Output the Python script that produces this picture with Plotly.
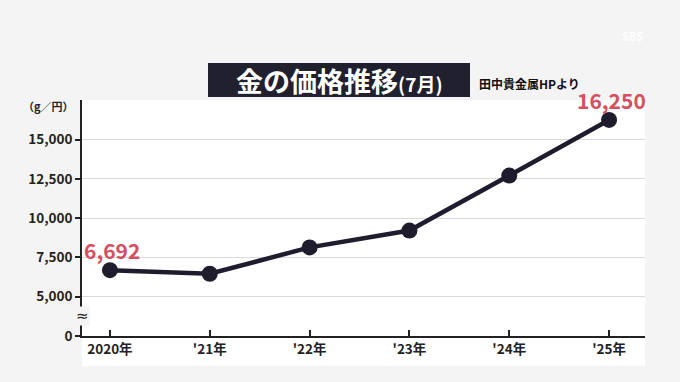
import plotly.graph_objects as go

years = ["2020年", "'21年", "'22年", "'23年", "'24年", "'25年"]
prices = [6692, 6460, 8140, 9210, 12710, 16250]
labeled = {0: "6,692", 5: "16,250"}
ytick_vals = [2500, 5000, 7500, 10000, 12500, 15000]
ytick_text = ["0", "5,000", "7,500", "10,000", "12,500", "15,000"]

W, H = 680, 382
L, R, T, B = 82, 35, 100, 46
PW, PH = W - L - R, H - T - B
FONT = "Noto Sans CJK JP"


def px(x):
    return (x - L) / PW


def py(y):
    return (H - B - y) / PH


xs = list(range(len(years)))

fig = go.Figure()
fig.add_trace(go.Scatter(
    x=xs, y=prices, mode="lines+markers",
    line=dict(color="#1f1d2d", width=4.5),
    marker=dict(color="#1f1d2d", size=16),
    cliponaxis=False, hoverinfo="skip", showlegend=False,
))

annotations = []
for i, txt in labeled.items():
    annotations.append(dict(
        x=xs[i], y=prices[i], xref="x", yref="y", text="<b>" + txt + "</b>",
        showarrow=False, yanchor="middle", xanchor="center", yshift=20, xshift=2,
        font=dict(family=FONT, size=21, color="#d4505f"),
    ))

annotations.append(dict(
    x=px(339), y=py(80), xref="paper", yref="paper",
    text="<b>金の価格推移</b><b><span style='font-size:19px'>(7月)</span></b>",
    showarrow=False, xanchor="center", yanchor="middle",
    font=dict(family=FONT, size=27, color="white"),
))
annotations.append(dict(
    x=px(477), y=py(84), xref="paper", yref="paper",
    text="<b>田中貴金属HPより</b>", showarrow=False, xanchor="left", yanchor="middle",
    font=dict(family=FONT, size=12, color="#111111"),
))
annotations.append(dict(
    x=px(48), y=py(106), xref="paper", yref="paper",
    text="<b>（g／円）</b>", showarrow=False, xanchor="center", yanchor="middle",
    font=dict(family=FONT, size=11, color="#222222"),
))
annotations.append(dict(
    x=0, y=3750, xref="paper", yref="y", text="≈", showarrow=False,
    xanchor="center", yanchor="middle", bgcolor="#f4f4f4", borderpad=0,
    font=dict(family="DejaVu Sans", size=15, color="#222222"),
))
annotations.append(dict(
    x=px(645), y=py(26), xref="paper", yref="paper", text="<b>SBS</b>",
    showarrow=False, font=dict(family=FONT, size=11, color="rgba(255,255,255,0.9)"),
))

shapes = [
    dict(type="rect", xref="paper", yref="paper",
         x0=px(208), x1=px(470), y0=py(97), y1=py(63),
         fillcolor="#20202f", line=dict(width=0), layer="below"),
    dict(type="rect", xref="paper", yref="paper",
         x0=px(L), x1=px(W - R), y0=py(366), y1=py(H - B),
         fillcolor="white", line=dict(width=0), layer="below"),
]

fig.update_layout(
    width=W, height=H,
    margin=dict(l=L, r=R, t=T, b=B),
    paper_bgcolor="#f4f4f4", plot_bgcolor="white",
    font=dict(family=FONT, color="#222222"),
    annotations=annotations, shapes=shapes,
    xaxis=dict(
        range=[-0.28, 5.36], tickvals=xs, ticktext=["<b>%s</b>" % y for y in years],
        showgrid=False, zeroline=False, showline=True, linecolor="#222222", linewidth=1.6,
        ticks="inside", ticklen=6, tickwidth=1.5, tickcolor="#222222",
        tickfont=dict(family=FONT, size=13.5, color="#222222"), fixedrange=True,
    ),
    yaxis=dict(
        range=[2500, 17519], tickvals=ytick_vals, ticktext=["<b>%s</b>" % t for t in ytick_text],
        showgrid=True, gridcolor="#d9d9d9", gridwidth=1, zeroline=False,
        showline=True, linecolor="#222222", linewidth=1.6,
        ticks="outside", ticklen=5, tickwidth=1.5, tickcolor="#222222",
        tickfont=dict(family=FONT, size=13.5, color="#222222"), fixedrange=True,
    ),
)

fig.write_html("out.html", config={"displayModeBar": False},
               post_script="document.body.style.margin='0';")
